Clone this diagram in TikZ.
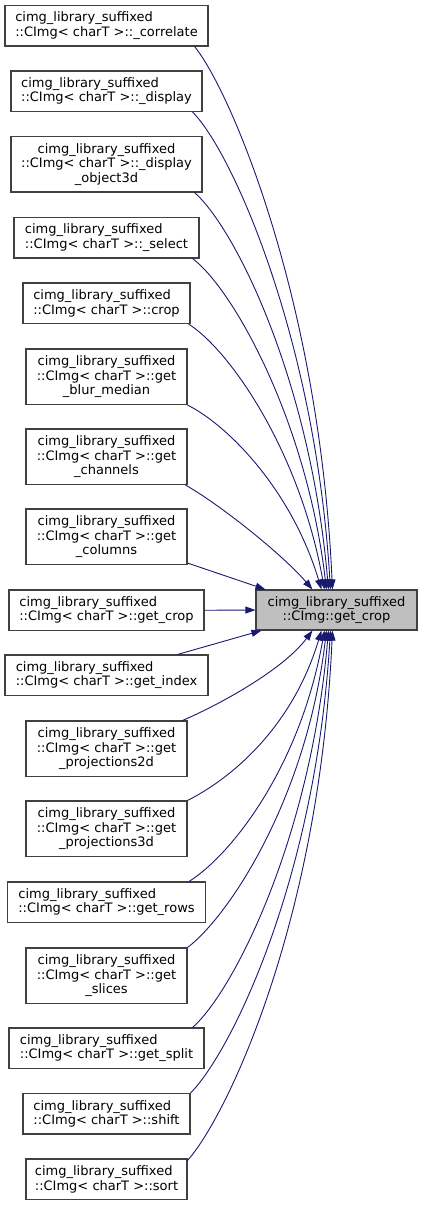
\documentclass[tikz,border=0pt]{standalone}
\usepackage{fontspec}
\setmainfont{DejaVu Sans}
\usetikzlibrary{arrows.meta}
\definecolor{edgeblue}{HTML}{191970}
\definecolor{boxline}{HTML}{404040}
\definecolor{tgtfill}{HTML}{BFBFBF}
\begin{document}
\begin{tikzpicture}[x=1pt,y=1pt,
  box/.style={draw=boxline, line width=1.1pt, fill=white, inner sep=0pt,
    font=\fontsize{13}{14.5}\selectfont, text=black},
  two/.style={box, minimum height=40.5pt, align=left},
  three/.style={box, minimum height=55.5pt, align=center},
  tgt/.style={box, fill=tgtfill, minimum height=40pt, minimum width=161pt, align=center},
  edge/.style={draw=edgeblue, line width=0.9pt, -{Triangle[length=10pt,width=7pt]}}
]
\useasboundingbox (0,0) rectangle (423,-1205);

\node[two, minimum width=203pt] (s1) at (106.5,-25.75) {cimg\_library\_suffixed\\::CImg< charT >::\_correlate};
\node[two, minimum width=191pt] (s2) at (106.5,-91.25) {cimg\_library\_suffixed\\::CImg< charT >::\_display};
\node[three, minimum width=191pt] (s3) at (106.5,-164.25) {cimg\_library\_suffixed\\::CImg< charT >::\_display\\\_object3d};
\node[two, minimum width=185pt] (s4) at (106.5,-237.75) {cimg\_library\_suffixed\\::CImg< charT >::\_select};
\node[two, minimum width=167pt] (s5) at (106.5,-303.25) {cimg\_library\_suffixed\\::CImg< charT >::crop};
\node[three, minimum width=161pt] (s6) at (106.5,-376.75) {cimg\_library\_suffixed\\::CImg< charT >::get\\\_blur\_median};
\node[three, minimum width=161pt] (s7) at (106.5,-456.75) {cimg\_library\_suffixed\\::CImg< charT >::get\\\_channels};
\node[three, minimum width=161pt] (s8) at (106.5,-536.75) {cimg\_library\_suffixed\\::CImg< charT >::get\\\_columns};
\node[two, minimum width=195pt] (s9) at (106.5,-610.25) {cimg\_library\_suffixed\\::CImg< charT >::get\_crop};
\node[two, minimum width=203pt] (s10) at (106.5,-675.25) {cimg\_library\_suffixed\\::CImg< charT >::get\_index};
\node[three, minimum width=161pt] (s11) at (106.5,-748.75) {cimg\_library\_suffixed\\::CImg< charT >::get\\\_projections2d};
\node[three, minimum width=161pt] (s12) at (106.5,-828.75) {cimg\_library\_suffixed\\::CImg< charT >::get\\\_projections3d};
\node[two, minimum width=198pt] (s13) at (106.5,-902.25) {cimg\_library\_suffixed\\::CImg< charT >::get\_rows};
\node[three, minimum width=161pt] (s14) at (106.5,-975.75) {cimg\_library\_suffixed\\::CImg< charT >::get\\\_slices};
\node[two, minimum width=195pt] (s15) at (106.5,-1048.25) {cimg\_library\_suffixed\\::CImg< charT >::get\_split};
\node[two, minimum width=167pt] (s16) at (106.5,-1113.75) {cimg\_library\_suffixed\\::CImg< charT >::shift};
\node[two, minimum width=161pt] (s17) at (106.5,-1179.25) {cimg\_library\_suffixed\\::CImg< charT >::sort};

\node[tgt] (t) at (336.5,-610) {cimg\_library\_suffixed\\::CImg::get\_crop};

\draw[edge] ([xshift=-14pt]s1.south east) .. controls +(36,-44) and +(-13,290) .. ([xshift=77pt]t.north west);
\draw[edge] ([xshift=-10pt]s2.south east) .. controls +(40,-40) and +(-15,250) .. ([xshift=75pt]t.north west);
\draw[edge] ([xshift=-8pt]s3.south east) .. controls +(40,-35) and +(-18,210) .. ([xshift=73pt]t.north west);
\draw[edge] ([xshift=-7pt]s4.south east) .. controls +(40,-30) and +(-20,170) .. ([xshift=71pt]t.north west);
\draw[edge] ([xshift=-2pt]s5.south east) .. controls +(40,-25) and +(-25,140) .. ([xshift=69pt]t.north west);
\draw[edge] (s6.south east) .. controls +(40,-20) and +(-30,100) .. ([xshift=66pt]t.north west);
\draw[edge] ([xshift=-2pt]s7.south east) .. controls +(35,-20) and +(-30,35) .. ([xshift=57pt]t.north west);
\draw[edge] ([yshift=2pt]s8.south east) -- ([xshift=10pt]t.north west);
\draw[edge] (s9.east) -- (t.west);
\draw[edge] ([xshift=-31pt]s10.north east) -- ([xshift=6pt]t.south west);
\draw[edge] ([xshift=-5pt]s11.north east) .. controls +(35,15) and +(-30,-40) .. ([xshift=57pt]t.south west);
\draw[edge] (s12.north east) .. controls +(40,20) and +(-30,-100) .. ([xshift=66pt]t.south west);
\draw[edge] ([xshift=-17pt]s13.north east) .. controls +(40,25) and +(-25,-140) .. ([xshift=69pt]t.south west);
\draw[edge] (s14.north east) .. controls +(40,30) and +(-20,-170) .. ([xshift=71pt]t.south west);
\draw[edge] ([xshift=-12pt]s15.north east) .. controls +(40,35) and +(-18,-210) .. ([xshift=73pt]t.south west);
\draw[edge] (s16.north east) .. controls +(40,40) and +(-15,-250) .. ([xshift=75pt]t.south west);
\draw[edge] ([yshift=-2pt]s17.north east) .. controls +(40,45) and +(-13,-290) .. ([xshift=77pt]t.south west);
\end{tikzpicture}
\end{document}
